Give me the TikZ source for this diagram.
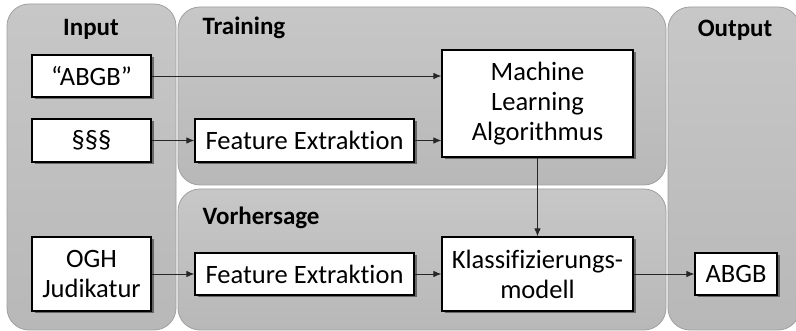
\documentclass[tikz,border=0pt]{standalone}
\usepackage{fontspec}
\setmainfont[Ligatures=NoCommon]{Carlito}
\usetikzlibrary{arrows.meta,shadows}
\definecolor{panelTop}{RGB}{199,199,199}
\definecolor{panelBot}{RGB}{184,184,184}
\definecolor{panelLine}{RGB}{160,160,160}
\begin{document}
\begin{tikzpicture}[x=1pt,y=-1pt,
  panel/.style={draw=panelLine,line width=0.8pt,rounded corners=22pt,top color=panelTop,bottom color=panelBot},
  title/.style={font=\fontsize{25}{30}\selectfont\bfseries,anchor=base},
  box/.style={draw=black,line width=1.2pt,fill=white,inner sep=0pt,align=center,
    font=\fontsize{26.5}{30}\selectfont,
    drop shadow={shadow xshift=2.5pt,shadow yshift=-2.5pt,opacity=0.45,fill=black}},
  conn/.style={draw=black!85,line width=0.9pt,-{Latex[length=8pt,width=6.5pt]}}]
\useasboundingbox (0,0) rectangle (796,331);
\fill[white] (0,0) rectangle (796,331);
% panels
\path[panel] (7,4) rectangle (176,330);
\path[panel] (178,7) rectangle (666,185);
\path[panel] (178,189) rectangle (666,330);
\path[panel] (668,7) rectangle (800,330);
% titles
\node[title] (tIn) at (91,36) {Input};
\node[title,anchor=base west] (tTr) at (199,35) {Training};
\node[title,anchor=base west] (tVo) at (199,225) {Vorhersage};
\node[title] (tOut) at (735,37) {Output};
% boxes
\node[box,minimum width=119pt,minimum height=42pt] (abgb) at (91.5,76) {“ABGB”};
\node[box,minimum width=119pt,minimum height=43pt] (par) at (91.5,140.5) {§§§};
\node[box,minimum width=119pt,minimum height=74pt] (ogh) at (91.5,274) {OGH\\Judikatur};
\node[box,minimum width=219pt,minimum height=43pt] (fe1) at (304.5,140.5) {Feature Extraktion};
\node[box,minimum width=191pt,minimum height=107pt] (ml) at (537.5,103.5) {Machine\\Learning\\Algorithmus};
\node[box,minimum width=219pt,minimum height=42pt] (fe2) at (304.5,274) {Feature Extraktion};
\node[box,minimum width=191pt,minimum height=74pt] (kl) at (537.5,274) {Klassifizierungs-\\modell};
\node[box,minimum width=82pt,minimum height=42pt] (out) at (736,274) {ABGB};
% connectors
\draw[conn] (abgb.east) -- (abgb.east -| ml.west);
\draw[conn] (par.east) -- (fe1.west);
\draw[conn] (fe1.east) -- (fe1.east -| ml.west);
\draw[conn] (ml.south) -- (kl.north);
\draw[conn] (ogh.east) -- (fe2.west);
\draw[conn] (fe2.east) -- (kl.west);
\draw[conn] (kl.east) -- (out.west);
\end{tikzpicture}
\end{document}
